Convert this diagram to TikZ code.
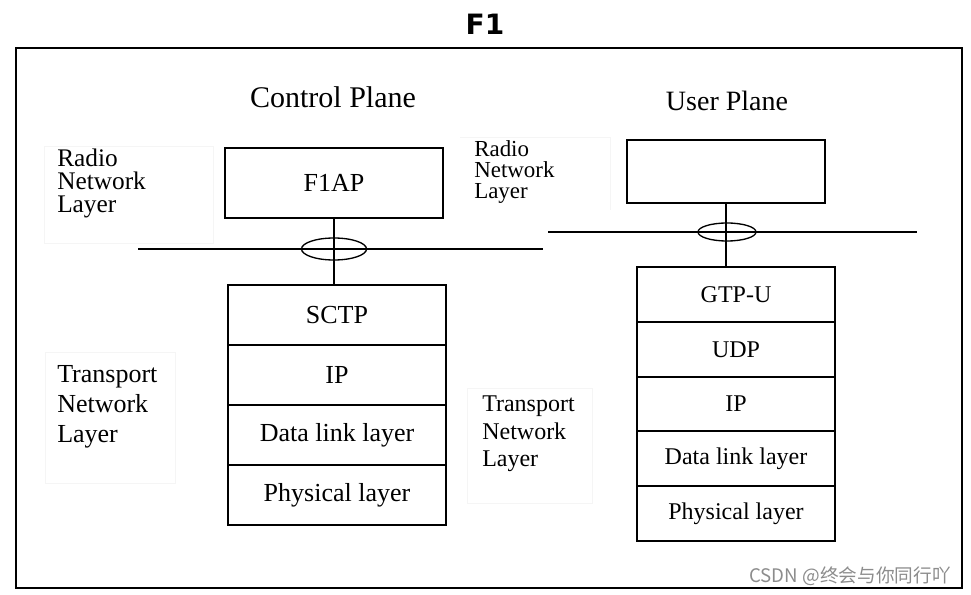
\documentclass[tikz,border=0pt]{standalone}
\usepackage{fontspec}
\setmainfont{Liberation Serif}
\newfontfamily\titlefont{DejaVu Sans}
\newfontfamily\cjkfont{Noto Sans CJK SC}
\usetikzlibrary{shapes.geometric}
\begin{document}
\begin{tikzpicture}[x=0.75pt,y=-0.75pt,
  box/.style={draw,line width=1.2pt,inner sep=0pt,font=\fontsize{19.5}{22}\selectfont},
  cbox/.style={box,minimum width=163.5pt,minimum height=45pt},
  ubox/.style={box,minimum width=148.5pt,minimum height=40.9pt,font=\fontsize{18}{21}\selectfont},
  ring/.style={draw,ellipse,line width=1pt,inner sep=0pt},
  bus/.style={line width=1pt},
  faint/.style={draw=black!4,line width=0.6pt},
  side/.style={align=left,inner sep=0pt,anchor=north west}]
\useasboundingbox (0,0) rectangle (971,595);
% frame
\draw[line width=1.8pt] (16,48) rectangle (962,588);
\node[font=\titlefont\bfseries\fontsize{21}{24}\selectfont] (title) at (485,24) {F1};
% faint text frames
\draw[faint] (44,146) rectangle (213,243);
\draw[faint] (460,137) -- (610,137) -- (610,210);
\draw[faint] (45,352) rectangle (175,483);
\draw[faint] (467,388) rectangle (592,503);
% headings
\node[font=\fontsize{22.5}{26}\selectfont] (cp) at (333,97) {Control Plane};
\node[font=\fontsize{21}{24}\selectfont] (up) at (727,101) {User Plane};
% side labels
\node[side,font=\fontsize{19}{17.2}\selectfont] (rnl1) at (57,149) {Radio\\Network\\Layer};
\node[side,font=\fontsize{17.2}{15.9}\selectfont] (rnl2) at (474,140) {Radio\\Network\\Layer};
\node[side,font=\fontsize{19.5}{22.5}\selectfont] (tnl1) at (57,365) {Transport\\Network\\Layer};
\node[side,font=\fontsize{18}{20.5}\selectfont] (tnl2) at (482,396) {Transport\\Network\\Layer};
% control plane
\node[cbox,minimum height=52.5pt] (f1ap) at (334,183) {F1AP};
\node[cbox] (sctp) at (337,315) {SCTP};
\node[cbox] (cip) at (337,375) {IP};
\node[cbox] (cdl) at (337,435) {Data link layer};
\node[cbox] (cph) at (337,495) {Physical layer};
\coordinate (cl) at (138,249);
\coordinate (cr) at (543,249);
\draw[bus] (cl) -- (cr);
\node[ring,minimum width=48.75pt,minimum height=16.5pt] (cring) at (334,249) {};
\draw[bus] (f1ap.south) -- (f1ap.south |- sctp.north);
% user plane
\node[ubox,minimum height=47.25pt] (app) at (726,171.5) {};
\node[ubox] (gtp) at (736,294.5) {GTP-U};
\node[ubox] (udp) at (736,349.5) {UDP};
\node[ubox] (uip) at (736,404) {IP};
\node[ubox] (udl) at (736,458.5) {Data link layer};
\node[ubox] (uph) at (736,513.5) {Physical layer};
\coordinate (ul) at (548,232);
\coordinate (ur) at (917,232);
\draw[bus] (ul) -- (ur);
\node[ring,minimum width=43.5pt,minimum height=13.5pt] (uring) at (727,232) {};
\draw[bus] (app.south) -- (app.south |- gtp.north);
% watermark
\node[text=black!45,font=\cjkfont\fontsize{14}{16}\selectfont] (wm) at (850,576) {CSDN @终会与你同行吖};
\end{tikzpicture}
\end{document}
